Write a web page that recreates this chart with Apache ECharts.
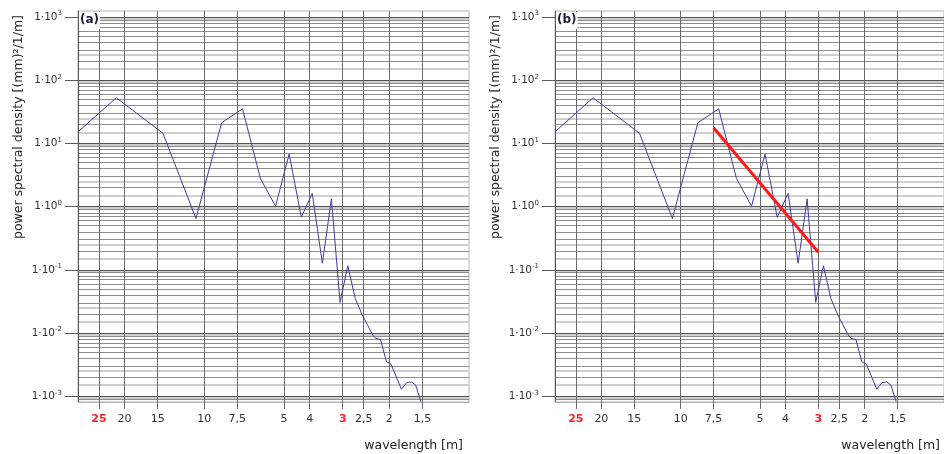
<!DOCTYPE html>
<html>
<head>
<meta charset="utf-8">
<script src="https://cdn.jsdelivr.net/npm/echarts@6/dist/echarts.min.js"></script>
<style>
  html, body { margin: 0; padding: 0; background: #fff; }
  #chart { width: 944px; height: 454px; }
</style>
</head>
<body>
<div id="chart"></div>
<script>
// Wavelength [m] of each spectral estimate and its power spectral density
const wavelengths = [30, 21.5, 14.33, 10.75, 8.6, 7.17, 6.14, 5.38, 4.78, 4.3, 3.91, 3.58, 3.31, 3.07,
  2.87, 2.69, 2.53, 2.31, 2.25, 2.16, 2.05, 1.97, 1.8, 1.72, 1.65, 1.59, 1.52];
const psdValues = [15.3, 52.9, 14.5, 0.65, 21.3, 35.4, 2.8, 1.02, 6.8, 0.68, 1.62, 0.127, 1.33, 0.0306,
  0.116, 0.0354, 0.0193, 0.0093, 0.0082, 0.0079, 0.0035, 0.0032, 0.00129, 0.00164, 0.00168, 0.0015, 0.00082];

// Fitted decay segment shown in panel (b)
const fitWavelengths = [7.5, 3];
const fitValues = [17.7, 0.19];

// Axis ticks
const wavelengthTicks = [25, 20, 15, 10, 7.5, 5, 4, 3, 2.5, 2, 1.5];
const highlightedTicks = [25, 3];
const decadeTicks = [1e-3, 1e-2, 1e-1, 1, 10, 100, 1000];
const minorMantissasDark = [2, 3, 4, 5, 6, 7, 8, 9];
const minorMantissasLight = [1.5, 2.5, 9.5];

const panelLabels = ['(a)', '(b)'];
const yName = 'power spectral density [(mm)²/1/m]';
const xName = 'wavelength [m]';

const FONT = '"DejaVu Sans", Verdana, sans-serif';
const Y_MIN = 8.1e-4, Y_MAX = 1250;
const X_MIN = 1, X_MAX = 30;

function minorValues(mantissas) {
  const out = [];
  for (let e = -4; e <= 3; e++) {
    mantissas.forEach(m => {
      const v = m * Math.pow(10, e);
      if (v > Y_MIN && v < Y_MAX) out.push(v);
    });
  }
  return out;
}
const lightGrid = minorValues(minorMantissasLight);
const darkGrid = minorValues(minorMantissasDark);

const panelLeft = [78, 555];
const grids = panelLeft.map(left => ({
  left: left, top: 11, width: 391, height: 391,
  show: true, borderColor: '#b4b4b4', borderWidth: 1, backgroundColor: 'transparent'
}));

const xAxes = [], yAxes = [], series = [], graphics = [];

function fmtWave(v) {
  const r = Math.round(v * 10) / 10;
  const s = String(r).replace('.', ',');
  return highlightedTicks.indexOf(r) >= 0 ? '{r|' + s + '}' : '{n|' + s + '}';
}
function fmtPow(v) {
  const e = Math.round(Math.log10(v));
  return '{m|1·10}{e|' + e + '}';
}

panelLeft.forEach((left, i) => {
  xAxes.push({
    type: 'log', gridIndex: i, min: X_MIN, max: X_MAX, inverse: true,
    axisLine: { show: true, lineStyle: { color: '#b4b4b4' } },
    axisTick: { show: true, customValues: wavelengthTicks, length: 7, lineStyle: { color: '#6a6a6a' } },
    axisLabel: {
      customValues: wavelengthTicks, margin: 12, formatter: fmtWave,
      rich: {
        n: { fontFamily: FONT, fontSize: 11, color: '#333' },
        r: { fontFamily: FONT, fontSize: 11, fontWeight: 'bold', color: '#ff2020' }
      }
    },
    splitLine: { show: true, lineStyle: { color: '#6a6a6a', width: 1 } }
  });

  // light minor lines
  yAxes.push({
    type: 'log', gridIndex: i, min: Y_MIN, max: Y_MAX, position: 'left',
    axisLine: { show: false }, axisTick: { show: false, customValues: lightGrid },
    axisLabel: { show: false },
    splitLine: { show: true, lineStyle: { color: '#cfcfcf', width: 2 } }
  });
  // dark minor lines
  yAxes.push({
    type: 'log', gridIndex: i, min: Y_MIN, max: Y_MAX, position: 'left',
    axisLine: { show: false }, axisTick: { show: false, customValues: darkGrid },
    axisLabel: { show: false },
    splitLine: { show: true, lineStyle: { color: '#8e8e8e', width: 1 } }
  });
  // decades with labels
  yAxes.push({
    type: 'log', gridIndex: i, min: Y_MIN, max: Y_MAX, position: 'left',
    axisLine: { show: true, lineStyle: { color: '#5a5a5a' } },
    axisTick: { show: true, customValues: decadeTicks, length: 13, lineStyle: { color: '#5a5a5a' } },
    axisLabel: {
      customValues: decadeTicks, margin: 16, formatter: fmtPow,
      rich: {
        m: { fontFamily: FONT, fontSize: 10.5, color: '#333', lineHeight: 14 },
        e: { fontFamily: FONT, fontSize: 7, color: '#333', lineHeight: 8, verticalAlign: 'top' }
      }
    },
    splitLine: { show: true, lineStyle: { color: '#555', width: 1 } }
  });

  series.push({
    type: 'line', xAxisIndex: i, yAxisIndex: i * 3 + 2, z: 5,
    symbol: 'none', animation: false,
    lineStyle: { color: '#3d3d9e', width: 1 },
    data: wavelengths.map((w, k) => [w, psdValues[k]])
  });

  graphics.push({
    type: 'text', x: left - 59, y: 127, rotation: Math.PI / 2, z: 10,
    style: { text: yName, font: '12.5px ' + FONT, fill: '#222', align: 'center', verticalAlign: 'middle' }
  });
  graphics.push({
    type: 'text', x: left + 385, y: 446, z: 10,
    style: { text: xName, font: '12.5px ' + FONT, fill: '#222', align: 'right', verticalAlign: 'middle' }
  });
  graphics.push({
    type: 'text', x: left + 1, y: 12, z: 10,
    style: {
      text: panelLabels[i], font: 'bold 12px ' + FONT, fill: '#1c1c3c',
      backgroundColor: '#fff', padding: [2, 1, 3, 1], align: 'left', verticalAlign: 'top'
    }
  });
});

series.push({
  type: 'line', xAxisIndex: 1, yAxisIndex: 5, z: 6,
  symbol: 'none', animation: false,
  lineStyle: { color: '#ff1a1a', width: 3 },
  data: fitWavelengths.map((w, k) => [w, fitValues[k]])
});

const chart = echarts.init(document.getElementById('chart'), null, { renderer: 'canvas' });
chart.setOption({
  animation: false,
  backgroundColor: '#fff',
  grid: grids,
  xAxis: xAxes,
  yAxis: yAxes,
  series: series,
  graphic: graphics
});
</script>
</body>
</html>
